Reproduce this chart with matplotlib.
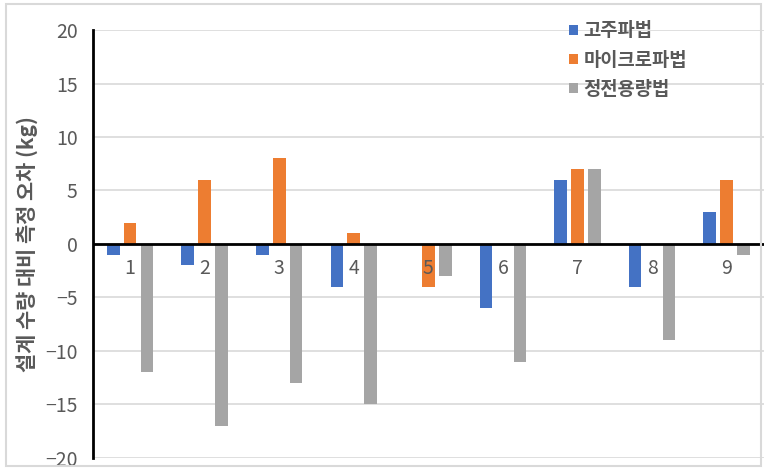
import numpy as np
import matplotlib.pyplot as plt
from matplotlib.patches import Rectangle

plt.rcParams['font.family'] = ['Noto Sans CJK KR', 'DejaVu Sans']

categories = ["1", "2", "3", "4", "5", "6", "7", "8", "9"]
series_names = ["고주파법", "마이크로파법", "정전용량법"]
high_freq = [-1, -2, -1, -4, 0, -6, 6, -4, 3]
microwave = [2, 6, 8, 1, -4, 0, 7, 0, 6]
capacitance = [-12, -17, -13, -15, -3, -11, 7, -9, -1]
colors = ["#4472C4", "#ED7D31", "#A5A5A5"]

fig = plt.figure(figsize=(7.67, 4.70), dpi=100)
fig.patches.append(Rectangle((0.008, 0.008), 0.984, 0.984, transform=fig.transFigure,
                             fill=False, edgecolor="#d9d9d9", linewidth=1.5))
ax = fig.add_axes([0.121, 0.026, 0.875, 0.91])

x = np.arange(1, len(categories) + 1)
w = 0.17
step = 0.227
for i, (vals, name) in enumerate(zip([high_freq, microwave, capacitance], series_names)):
    ax.bar(x + (i - 1) * step, vals, width=w, color=colors[i], label=name, zorder=3)

ax.set_xlim(0.5, 9.5)
ax.set_ylim(-20, 20)
ax.set_yticks(np.arange(-20, 21, 5))
ax.set_yticklabels([str(v).replace("-", "\u2212") for v in range(-20, 21, 5)])
ax.grid(axis="y", color="#d9d9d9", linewidth=1.2, zorder=0)
ax.axhline(0, color="black", linewidth=2, zorder=4)
for s in ["top", "right", "bottom"]:
    ax.spines[s].set_visible(False)
ax.spines["left"].set_linewidth(2)
ax.spines["left"].set_color("black")
ax.tick_params(axis="y", length=0, pad=11, labelsize=14, labelcolor="#595959")
ax.set_xticks([])
for xi, lab in zip(x, categories):
    ax.text(xi, -2.3, lab, ha="center", va="center", fontsize=14, color="#595959", zorder=5)

ax.set_ylabel("설계 수량 대비 측정 오차 (kg)", fontsize=15, color="#595959",
              fontweight="bold", labelpad=4)

ax.legend(loc="upper left", bbox_to_anchor=(0.685, 1.06), frameon=False,
          handlelength=0.45, handleheight=0.45, handletextpad=0.3, labelspacing=0.55,
          labelcolor="#595959", prop={"weight": "bold", "size": 13.5})

fig.savefig("out.png", dpi=100)
plt.close(fig)
